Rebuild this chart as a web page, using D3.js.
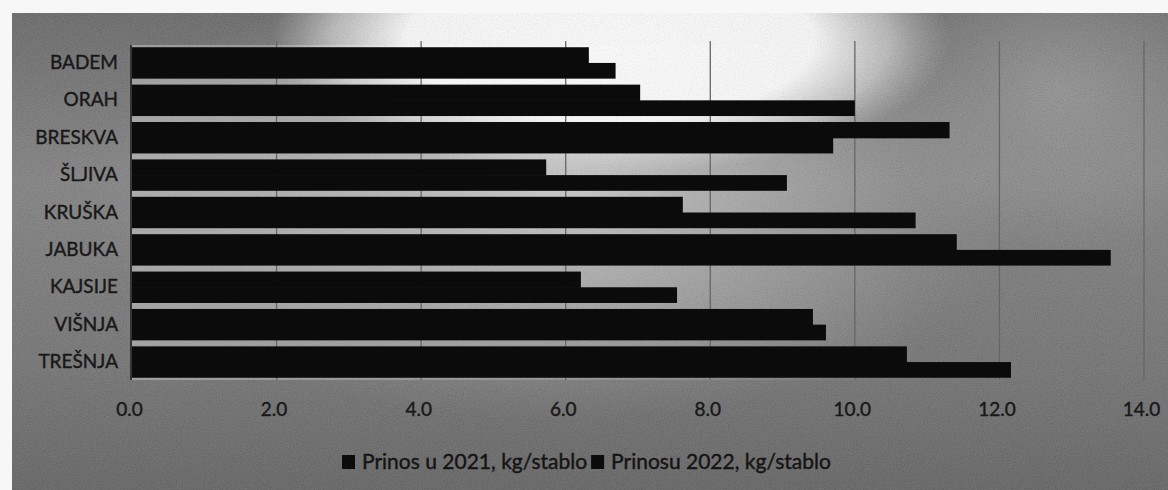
<!DOCTYPE html>
<html>
<head>
<meta charset="utf-8">
<script src="https://cdn.jsdelivr.net/npm/d3@7"></script>
<style>
  html, body { margin: 0; padding: 0; background: #f7f7f7; }
  svg { display: block; }
  text { font-family: Lato, "Open Sans", "Liberation Sans", sans-serif; }
</style>
</head>
<body>
<svg id="chart" width="1168" height="490"></svg>
<script>
// ---- data ----
const categories = ["BADEM", "ORAH", "BRESKVA", "ŠLJIVA", "KRUŠKA", "JABUKA", "KAJSIJE", "VIŠNJA", "TREŠNJA"];
const prinos2021 = [6.69, 10.0, 9.70, 9.06, 10.84, 13.54, 7.54, 9.60, 12.16];   // lower bar of each pair
const prinos2022 = [6.32, 7.03, 11.31, 5.73, 7.62, 11.41, 6.21, 9.42, 10.72];   // upper bar of each pair
const seriesNames = ["Prinos u 2021, kg/stablo", "Prinosu 2022, kg/stablo"];
const xTicks = [0, 2, 4, 6, 8, 10, 12, 14];

// ---- layout ----
const W = 1168, H = 490;
const plot = { left: 132, right: 1144, top: 45, bottom: 380 };
const svg = d3.select("#chart");
const defs = svg.append("defs");

function radial(id, cx, cy, rx, ry, stops) {
  const g = defs.append("radialGradient").attr("id", id)
    .attr("gradientUnits", "userSpaceOnUse")
    .attr("cx", cx).attr("cy", cy).attr("r", rx)
    .attr("gradientTransform", `translate(${cx},${cy}) scale(1,${ry / rx}) translate(${-cx},${-cy})`);
  stops.forEach(s => g.append("stop").attr("offset", s[0]).attr("stop-color", s[1]).attr("stop-opacity", s[2]));
}
// bright white glow at top centre
radial("glow", 610, 40, 340, 135, [["0%", "#ffffff", 1], ["60%", "#ffffff", 0.97], ["82%", "#e6e6e6", 0.6], ["100%", "#cccccc", 0]]);
// broad lighter area below the glow
radial("soft", 560, 190, 470, 230, [["0%", "#d0d0d0", 0.75], ["50%", "#b0b0b0", 0.45], ["100%", "#a0a0a0", 0]]);
// lighter area on right upper
radial("right", 1060, 90, 200, 160, [["0%", "#a2a2a2", 0.6], ["100%", "#a2a2a2", 0]]);

const lg = defs.append("linearGradient").attr("id", "vshade")
  .attr("x1", 0).attr("y1", 0).attr("x2", 0).attr("y2", 1);
lg.append("stop").attr("offset", "0%").attr("stop-color", "#626262");
lg.append("stop").attr("offset", "35%").attr("stop-color", "#7c7c7c");
lg.append("stop").attr("offset", "75%").attr("stop-color", "#6c6c6c");
lg.append("stop").attr("offset", "100%").attr("stop-color", "#5c5c5c");

const strip = defs.append("linearGradient").attr("id", "strip")
  .attr("x1", 0).attr("y1", 0).attr("x2", 1).attr("y2", 0);
strip.append("stop").attr("offset", "0%").attr("stop-color", "#fff").attr("stop-opacity", 0.3);
strip.append("stop").attr("offset", "60%").attr("stop-color", "#fff").attr("stop-opacity", 0.15);
strip.append("stop").attr("offset", "100%").attr("stop-color", "#fff").attr("stop-opacity", 0);

// noise texture
const f = defs.append("filter").attr("id", "noise").attr("x", 0).attr("y", 0).attr("width", "100%").attr("height", "100%");
f.append("feTurbulence").attr("type", "fractalNoise").attr("baseFrequency", 0.85).attr("numOctaves", 2).attr("seed", 5);
f.append("feColorMatrix").attr("type", "matrix")
  .attr("values", "1 0 0 0 0  1 0 0 0 0  1 0 0 0 0  0 0 0 0 0.16");

const bg = svg.append("g");
const bgRect = (fill) => bg.append("rect").attr("x", 12).attr("y", 13).attr("width", W - 12).attr("height", H - 13).attr("fill", fill);
bgRect("url(#vshade)");
bgRect("url(#soft)");
bgRect("url(#right)");
bgRect("url(#glow)");
bgRect("#000").attr("filter", "url(#noise)");

// ---- scales ----
const x = d3.scaleLinear().domain([0, 14]).range([plot.left, plot.right]);
const y = d3.scaleBand().domain(categories).range([plot.top, plot.bottom]).paddingInner(0.16).paddingOuter(0.06);
const sub = d3.scaleBand().domain(["2022", "2021"]).range([0, y.bandwidth()]).padding(0);

// light strips visible in gaps between bar groups
svg.append("rect").attr("x", plot.left).attr("y", plot.top).attr("width", x(11) - plot.left).attr("height", plot.bottom - plot.top)
  .attr("fill", "url(#strip)");

// gridlines
svg.append("g").selectAll("line").data(xTicks.slice(1)).join("line")
  .attr("x1", d => x(d)).attr("x2", d => x(d))
  .attr("y1", plot.top - 4).attr("y2", plot.bottom)
  .attr("stroke", "#666666").attr("stroke-width", 1.3);

// bars
const rows = categories.map((c, i) => ({ c, v21: prinos2021[i], v22: prinos2022[i] }));
const bars = svg.append("g");
bars.selectAll("rect.b22").data(rows).join("rect").attr("class", "b22")
  .attr("x", x(0)).attr("y", d => y(d.c) + sub("2022"))
  .attr("width", d => x(d.v22) - x(0)).attr("height", sub.bandwidth() + 0.6)
  .attr("fill", "#0b0b0b");
bars.selectAll("rect.b21").data(rows).join("rect").attr("class", "b21")
  .attr("x", x(0)).attr("y", d => y(d.c) + sub("2021"))
  .attr("width", d => x(d.v21) - x(0)).attr("height", sub.bandwidth())
  .attr("fill", "#0b0b0b");

// y axis line + labels
svg.append("line").attr("x1", plot.left - 1).attr("x2", plot.left - 1)
  .attr("y1", plot.top).attr("y2", plot.bottom)
  .attr("stroke", "#1e1e1e").attr("stroke-width", 1.5);

const yAxis = d3.axisLeft(y).tickSize(0).tickPadding(13);
const ya = svg.append("g").attr("transform", `translate(${plot.left - 1},0)`).call(yAxis);
ya.select(".domain").remove();
ya.selectAll("text")
  .attr("font-size", 19).attr("fill", "#181818")
  .attr("stroke", "#181818").attr("stroke-width", 0.4)
  .style("font-family", "Lato, 'Open Sans', sans-serif");

// x axis labels
const xAxis = d3.axisBottom(x).tickValues(xTicks).tickFormat(d3.format(".1f")).tickSize(0).tickPadding(23);
const xa = svg.append("g").attr("transform", `translate(-3,${plot.bottom})`).call(xAxis);
xa.select(".domain").remove();
xa.selectAll("text")
  .attr("font-size", 19).attr("fill", "#181818")
  .attr("stroke", "#181818").attr("stroke-width", 0.4)
  .style("font-family", "Lato, 'Open Sans', sans-serif");

// legend
const legend = svg.append("g").attr("transform", "translate(342,469)");
let lx = 0;
seriesNames.forEach((name, i) => {
  const g = legend.append("g").attr("transform", `translate(${lx},0)`);
  g.append("rect").attr("x", 0).attr("y", -14).attr("width", 13).attr("height", 14).attr("fill", "#0b0b0b");
  const t = g.append("text").attr("x", 20).attr("y", 0)
    .attr("font-size", 21).attr("fill", "#141414")
    .attr("stroke", "#141414").attr("stroke-width", 0.4)
    .text(name);
  lx += 20 + t.node().getComputedTextLength() + 4;
});
</script>
</body>
</html>
